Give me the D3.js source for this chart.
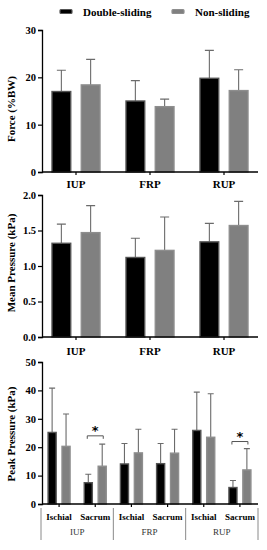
<!DOCTYPE html>
<html>
<head>
<meta charset="utf-8">
<script src="https://cdn.jsdelivr.net/npm/d3@7"></script>
<style>
  body { margin: 0; background: #fff; }
  svg { display: block; font-family: "Liberation Serif", "Times New Roman", serif; }
</style>
</head>
<body>
<svg id="chart" width="267" height="550"></svg>
<script>
"use strict";

const series = ["Double-sliding", "Non-sliding"];
const groups = ["IUP", "FRP", "RUP"];
const sites = ["Ischial", "Sacrum"];

// panel 1: force (%BW)
const forceMean = [[17.0, 18.4], [15.0, 13.8], [19.8, 17.2]];
const forceSd = [[4.5, 5.4], [4.3, 1.6], [5.9, 4.4]];
const forceTicks = [0, 10, 20, 30];

// panel 2: mean pressure (kPa)
const meanMean = [[1.32, 1.47], [1.12, 1.22], [1.34, 1.57]];
const meanSd = [[0.27, 0.38], [0.27, 0.47], [0.26, 0.34]];
const meanTicks = [0, 0.5, 1.0, 1.5, 2.0];

// panel 3: peak pressure (kPa), per group: [Ischial, Sacrum] x [double, non]
const peakMean = [
  [[25.2, 20.3], [7.5, 13.3]],
  [[14.1, 18.0], [14.2, 17.9]],
  [[25.9, 23.5], [5.8, 12.0]]
];
const peakSd = [
  [[15.6, 11.4], [3.0, 7.8]],
  [[7.2, 8.3], [7.1, 8.4]],
  [[13.5, 15.3], [2.5, 7.5]]
];
const peakTicks = [0, 10, 20, 30, 40, 50];
const sigMarks = [{ group: "IUP", site: "Sacrum", y: 24 }, { group: "RUP", site: "Sacrum", y: 22 }];

const fills = ["#000000", "#808080"];
const strokes = ["#555555", "#8e8e8e"];
const errColor = "#6b6b6b";

const svg = d3.select("#chart");
const left = 42, right = 258;

function yAxis(g, y, ticks, fmt, title, titleY) {
  const ax = g.append("g").attr("transform", "translate(" + left + ",0)")
    .call(d3.axisLeft(y).tickValues(ticks).tickFormat(fmt).tickSizeOuter(0).tickSize(4).tickPadding(2));
  ax.select(".domain").attr("stroke-width", 1.3);
  ax.selectAll(".tick line").attr("stroke-width", 1.2);
  ax.selectAll("text").attr("font-size", 10.5).attr("font-weight", "bold")
    .attr("font-family", "Liberation Serif, serif").attr("fill", "#000");
  g.append("text")
    .attr("transform", "translate(15," + titleY + ") rotate(-90)")
    .attr("text-anchor", "middle")
    .attr("font-size", 11).attr("font-weight", "bold")
    .text(title);
}

function xLine(g, y0, ticksX) {
  g.append("line").attr("x1", left).attr("x2", right).attr("y1", y0).attr("y2", y0)
    .attr("stroke", "#000").attr("stroke-width", 1.3);
  g.selectAll(".xt").data(ticksX).enter().append("line")
    .attr("x1", d => d).attr("x2", d => d).attr("y1", y0).attr("y2", y0 + 3)
    .attr("stroke", "#000").attr("stroke-width", 1.2);
}

function drawBars(g, items, y, capW) {
  // items: {x, w, v, sd, s}
  g.selectAll(".err").data(items).enter().append("path")
    .attr("d", d => {
      const cx = d.x + d.w / 2, t = y(d.v + d.sd);
      return "M" + cx + "," + y(d.v) + "V" + t + "M" + (cx - capW / 2) + "," + t + "H" + (cx + capW / 2);
    })
    .attr("fill", "none").attr("stroke", errColor).attr("stroke-width", 1.1);
  g.selectAll(".bar").data(items).enter().append("rect")
    .attr("x", d => d.x).attr("width", d => d.w)
    .attr("y", d => y(d.v)).attr("height", d => y(0) - y(d.v))
    .attr("fill", d => fills[d.s]).attr("stroke", d => strokes[d.s]).attr("stroke-width", 1.4);
}

// legend
const leg = svg.append("g");
const legX = d3.scaleOrdinal().domain(series).range([60, 172]);
series.forEach((s, i) => {
  leg.append("rect").attr("x", legX(s)).attr("y", 9.5).attr("width", 12).attr("height", 4).attr("rx", 1)
    .attr("fill", fills[i]).attr("stroke", strokes[i]).attr("stroke-width", 1.2);
  leg.append("text").attr("x", legX(s) + 23).attr("y", 15.5)
    .attr("font-size", 11).attr("font-weight", "bold").text(s);
});

// panels 1 and 2
const xg = d3.scalePoint().domain(groups).range([76, 224]);
const xs = d3.scaleBand().domain(series).range([-24, 24]).paddingInner(0.36);

function groupedPanel(mean, sd, domainMax, top, bottom, ticks, fmt, title, titleY, labelY) {
  const g = svg.append("g");
  const y = d3.scaleLinear().domain([0, domainMax]).range([bottom, top]);
  const items = [];
  groups.forEach((grp, gi) => series.forEach((s, si) => {
    items.push({ x: xg(grp) + xs(s), w: xs.bandwidth(), v: mean[gi][si], sd: sd[gi][si], s: si });
  }));
  drawBars(g, items, y, 9);
  yAxis(g, y, ticks, fmt, title, titleY);
  xLine(g, bottom, groups.map(d => xg(d)));
  g.selectAll(".xl").data(groups).enter().append("text")
    .attr("x", d => xg(d)).attr("y", labelY).attr("text-anchor", "middle")
    .attr("font-size", 11).attr("font-weight", "bold").text(d => d);
}

groupedPanel(forceMean, forceSd, 30, 30, 172, forceTicks, d3.format("d"), "Force (%BW)", 109, 188);
groupedPanel(meanMean, meanSd, 2, 195, 337, meanTicks, d3.format(".1f"), "Mean Pressure (kPa)", 263, 355);

// panel 3
const p3 = svg.append("g");
const yP = d3.scaleLinear().domain([0, 50]).range([504, 362]);
const subKeys = [];
groups.forEach(g => sites.forEach(s => subKeys.push(g + "|" + s)));
const xsub = d3.scaleBand().domain(subKeys).range([41, 258]);
const xin = d3.scaleBand().domain(series).range([-11, 11]).paddingInner(0.42);
const center = k => xsub(k) + xsub.bandwidth() / 2;

const peakItems = [];
groups.forEach((grp, gi) => sites.forEach((site, ti) => series.forEach((s, si) => {
  peakItems.push({ x: center(grp + "|" + site) + xin(s), w: xin.bandwidth(),
    v: peakMean[gi][ti][si], sd: peakSd[gi][ti][si], s: si });
})));
drawBars(p3, peakItems, yP, 6);
yAxis(p3, yP, peakTicks, d3.format("d"), "Peak Pressure (kPa)", 434);
xLine(p3, 504, subKeys.map(center));

p3.selectAll(".sl").data(subKeys).enter().append("text")
  .attr("x", center).attr("y", 520).attr("text-anchor", "middle")
  .attr("font-size", 9).attr("font-weight", "bold").text(d => d.split("|")[1]);

const xgrp = d3.scaleBand().domain(groups).range([41, 258]);
p3.selectAll(".sep").data(groups.map(d => xgrp(d)).concat([258])).enter().append("line")
  .attr("x1", d => d).attr("x2", d => d).attr("y1", 508).attr("y2", 540)
  .attr("stroke", "#8a8a8a").attr("stroke-width", 1);
p3.selectAll(".gl").data(groups).enter().append("text")
  .attr("x", d => xgrp(d) + xgrp.bandwidth() / 2).attr("y", 535).attr("text-anchor", "middle")
  .attr("font-size", 9).attr("fill", "#333").text(d => d);

// significance brackets
sigMarks.forEach(m => {
  const c = center(m.group + "|" + m.site);
  const yy = yP(m.y);
  p3.append("path")
    .attr("d", "M" + (c - 8) + "," + (yy + 3) + "V" + yy + "H" + (c + 8) + "V" + (yy + 3))
    .attr("fill", "none").attr("stroke", "#555").attr("stroke-width", 1);
  p3.append("text").attr("x", c).attr("y", yy - 1).attr("text-anchor", "middle")
    .attr("font-size", 13).attr("font-weight", "bold").attr("fill", "#000")
    .attr("font-family", "DejaVu Sans, sans-serif").text("*");
});
</script>
</body>
</html>
